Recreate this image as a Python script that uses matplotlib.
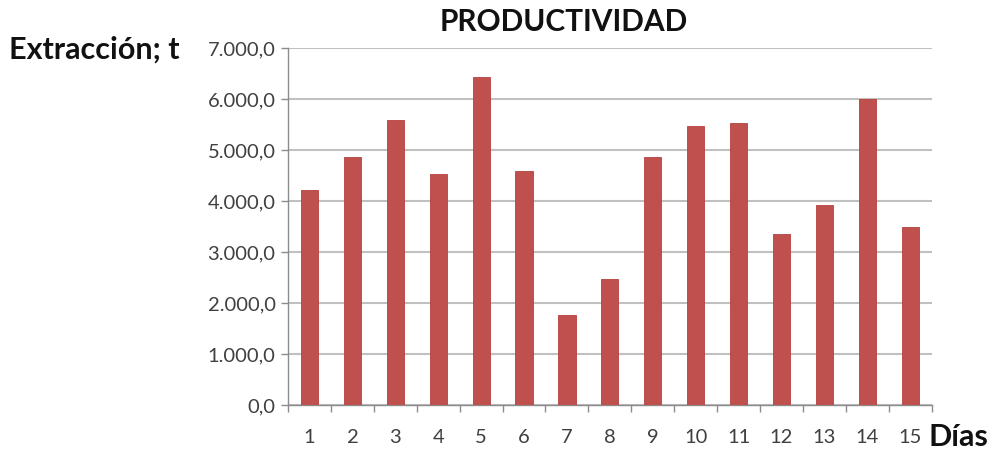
import matplotlib.pyplot as plt
from matplotlib.ticker import FuncFormatter, MultipleLocator

dias = list(range(1, 16))
extraccion = [4220, 4855, 5595, 4535, 6430, 4580, 1770, 2470,
              4855, 5480, 5530, 3355, 3915, 6000, 3500]

plt.rcParams['font.family'] = ['Lato', 'DejaVu Sans']


def fmt_es(v, _):
    s = f"{v:,.1f}"
    return s.replace(",", "X").replace(".", ",").replace("X", ".")


fig = plt.figure(figsize=(9.9, 4.49), dpi=100)
ax = fig.add_axes([0.291, 0.098, 0.650, 0.795])

ax.bar(dias, extraccion, width=0.4, color="#C0504D", edgecolor="#B5423F",
       linewidth=0.6, zorder=3)

ax.set_xlim(0.5, 15.5)
ax.set_ylim(0, 7000)
ax.yaxis.set_major_locator(MultipleLocator(1000))
ax.yaxis.set_major_formatter(FuncFormatter(fmt_es))
ax.set_xticks(dias)
ax.set_xticks([d + 0.5 for d in range(0, 16)], minor=True)
ax.tick_params(axis="x", which="major", length=0, pad=17,
               labelsize=14.5, labelcolor="#404040")
ax.tick_params(axis="x", which="minor", length=5, color="#8c8c8c", width=1)
ax.tick_params(axis="y", length=5, color="#8c8c8c", width=1, pad=4,
               labelsize=14.5, labelcolor="#404040")

ax.grid(axis="y", color="#c0c0c0", linewidth=1.5, zorder=0)
for side in ("top", "right"):
    ax.spines[side].set_visible(False)
for side in ("left", "bottom"):
    ax.spines[side].set_color("#8c8c8c")
    ax.spines[side].set_linewidth(1)

fig.text(0.569, 0.950, "PRODUCTIVIDAD", ha="center", va="center",
         fontsize=21.5, fontweight="bold", color="#111111")
fig.text(0.009, 0.890, "Extracción; t", ha="left", va="center",
         fontsize=22, fontweight="bold", color="#111111")
fig.text(0.938, 0.027, "Días", ha="left", va="center",
         fontsize=22, fontweight="bold", color="#111111")

fig.savefig("out.png", dpi=100)
plt.close(fig)
